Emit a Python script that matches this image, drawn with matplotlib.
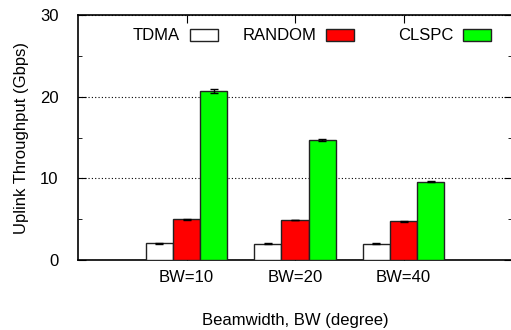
import numpy as np
import matplotlib
matplotlib.use('Agg')
import matplotlib.pyplot as plt
from matplotlib.patches import Rectangle

plt.rcParams['font.family'] = ['Liberation Sans', 'DejaVu Sans']

# data
groups = ['BW=10', 'BW=20', 'BW=40']
series = ['TDMA', 'RANDOM', 'CLSPC']
tdma = [2.05, 2.0, 2.0]
random_ = [5.0, 4.9, 4.75]
clspc = [20.7, 14.7, 9.6]
tdma_err = [0.05, 0.05, 0.05]
random_err = [0.05, 0.05, 0.05]
clspc_err = [0.3, 0.15, 0.1]
colors = ['white', '#ff0000', '#00ff00']

fig = plt.figure(figsize=(5.11, 3.3), dpi=100)
ax = fig.add_axes([78 / 511, 70 / 330, 434 / 511, 245 / 330])

x = np.arange(len(groups))
w = 0.25
vals = [tdma, random_, clspc]
errs = [tdma_err, random_err, clspc_err]
for i in range(3):
    ax.bar(x + (i - 1) * w, vals[i], w, yerr=errs[i], color=colors[i],
           edgecolor='#222222', linewidth=1.0, zorder=3,
           error_kw=dict(ecolor='black', elinewidth=1.0, capsize=3, capthick=1.0, zorder=4))

ax.set_xlim(-1, 3)
ax.set_ylim(0, 30)
ax.set_xticks(x)
ax.set_xticklabels(groups)
ax.set_yticks([0, 10, 20, 30])
ax.set_yticks([5, 15, 25], minor=True)
ax.tick_params(axis='both', which='both', direction='in', top=True, right=True, labelsize=12)
ax.tick_params(axis='y', which='major', length=6, pad=14)
ax.tick_params(axis='y', which='minor', length=3)
ax.tick_params(axis='x', which='major', length=6, pad=7)
ax.grid(axis='y', which='major', linestyle=(0, (1, 2)), color='black', linewidth=0.8, zorder=0)
ax.set_axisbelow(True)
for s in ax.spines.values():
    s.set_linewidth(1.2)

ax.set_ylabel('Uplink Throughput (Gbps)', fontsize=12, labelpad=8)
ax.set_xlabel('Beamwidth, BW (degree)', fontsize=12, labelpad=20)

# gnuplot-style legend: text then box
box_x = [0.258, 0.572, 0.888]
for i, name in enumerate(series):
    ax.add_patch(Rectangle((box_x[i], 0.894), 0.0645, 0.049, transform=ax.transAxes,
                           facecolor=colors[i], edgecolor='#222222', linewidth=1.0,
                           zorder=5, clip_on=False))
    ax.text(box_x[i] - 0.023, 0.918, name, transform=ax.transAxes,
            ha='right', va='center', fontsize=12, zorder=5)

fig.savefig('out.png', dpi=100)
